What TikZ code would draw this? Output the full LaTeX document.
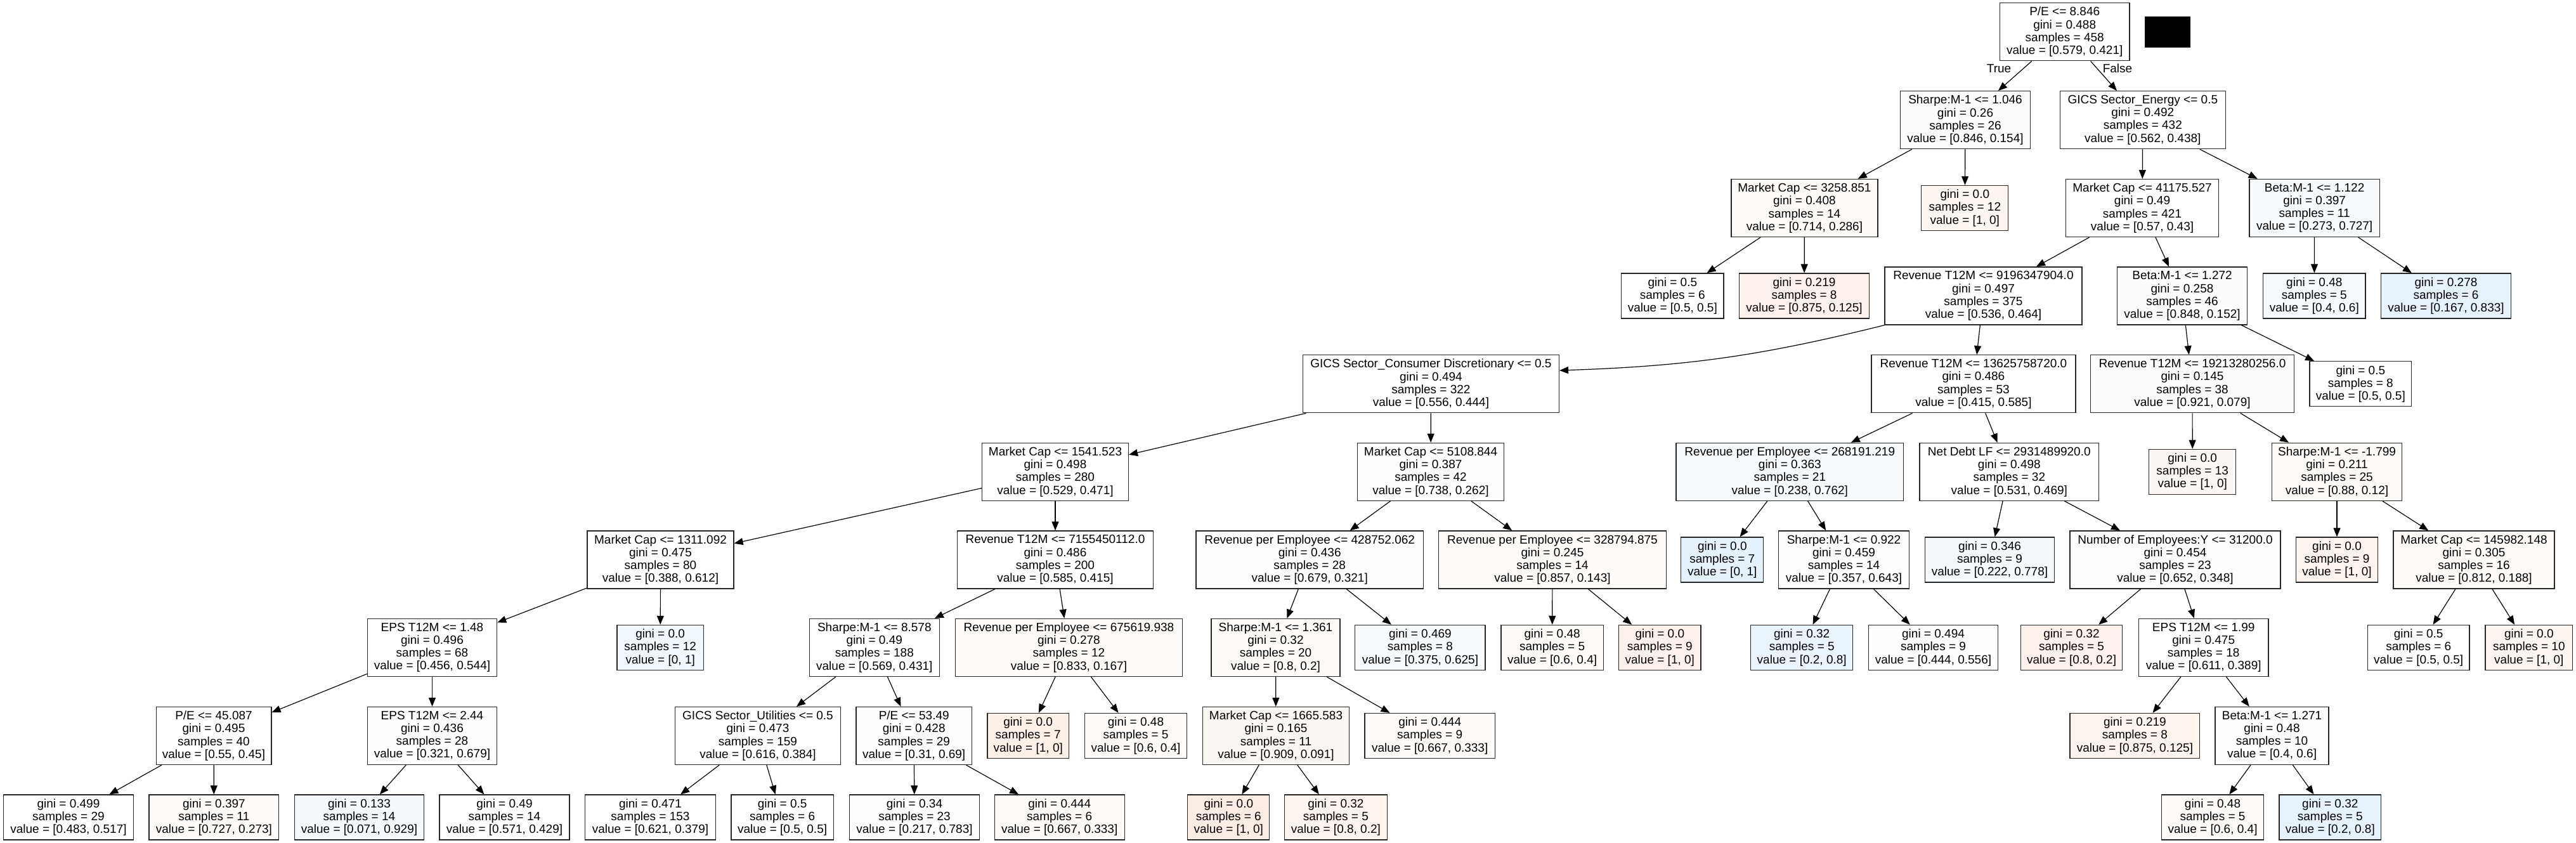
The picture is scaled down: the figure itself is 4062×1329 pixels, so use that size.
\documentclass[tikz,border=0pt]{standalone}
\usepackage{fontspec}
\setmainfont{Liberation Sans}
\usetikzlibrary{arrows.meta}
\definecolor{skO}{HTML}{E58139}
\definecolor{skB}{HTML}{399DE5}
\tikzset{
  tbox/.style={draw=black!85, line width=1.3pt, rectangle, inner sep=0pt, align=center,
    minimum width=#1pt, minimum height=91pt, font=\fontsize{19}{20.2}\selectfont},
  tleaf/.style={tbox=#1, minimum height=71pt},
  fo/.style={fill=skO!#1!white},
  fb/.style={fill=skB!#1!white},
  conn/.style={line width=1.2pt, black, -{Triangle[length=14pt,width=11pt]}},
  lbl/.style={font=\fontsize{19}{20.2}\selectfont, inner sep=0pt}
}
\begin{document}
\begin{tikzpicture}[x=1pt, y=-1pt]
\fill[white] (0,0) rectangle (4062,1329);
\useasboundingbox (0,0) rectangle (4062,1329);

% level 0
\node[tbox=204.6, fill=white] (n0) at (3255.7,50.3) {P/E <= 8.846\\gini = 0.488\\samples = 458\\value = [0.579, 0.421]};
\node[fill=black, minimum width=72pt, minimum height=49pt, inner sep=0pt] (blk) at (3418.3,50.5) {};
% level 1
\node[tbox=205.3, fo=2] (n1) at (3099,189.2) {Sharpe:M-1 <= 1.046\\gini = 0.26\\samples = 26\\value = [0.846, 0.154]};
\node[tbox=261, fill=white] (n2) at (3378.8,189.2) {GICS Sector\_Energy <= 0.5\\gini = 0.492\\samples = 432\\value = [0.562, 0.438]};
% level 2
\node[tbox=231, fo=3] (n3) at (2845.4,328) {Market Cap <= 3258.851\\gini = 0.408\\samples = 14\\value = [0.714, 0.286]};
\node[tleaf=137, fo=7] (n4) at (3098.3,328) {gini = 0.0\\samples = 12\\value = [1, 0]};
\node[tbox=241.6, fill=white] (n5) at (3378,328) {Market Cap <= 41175.527\\gini = 0.49\\samples = 421\\value = [0.57, 0.43]};
\node[tbox=205.2, fb=4] (n6) at (3649.6,328) {Beta:M-1 <= 1.122\\gini = 0.397\\samples = 11\\value = [0.273, 0.727]};
% level 3
\node[tleaf=161.4, fill=white] (n7) at (2637.3,466.5) {gini = 0.5\\samples = 6\\value = [0.5, 0.5]};
\node[tleaf=205, fo=10] (n8) at (2845,466.5) {gini = 0.219\\samples = 8\\value = [0.875, 0.125]};
\node[tbox=311, fill=white] (n9) at (3127.5,466.5) {Revenue T12M <= 9196347904.0\\gini = 0.497\\samples = 375\\value = [0.536, 0.464]};
\node[tbox=205, fo=2] (n10) at (3441,466.5) {Beta:M-1 <= 1.272\\gini = 0.258\\samples = 46\\value = [0.848, 0.152]};
\node[tleaf=161.4, fb=5] (n11) at (3649.3,466.5) {gini = 0.48\\samples = 5\\value = [0.4, 0.6]};
\node[tleaf=205, fb=12] (n12) at (3857,466.5) {gini = 0.278\\samples = 6\\value = [0.167, 0.833]};
% level 4
\node[tbox=404, fill=white] (n13) at (2256.4,605.3) {GICS Sector\_Consumer Discretionary <= 0.5\\gini = 0.494\\samples = 322\\value = [0.556, 0.444]};
\node[tbox=322, fill=white] (n14) at (3111.9,605.3) {Revenue T12M <= 13625758720.0\\gini = 0.486\\samples = 53\\value = [0.415, 0.585]};
\node[tbox=321, fo=2] (n15) at (3457,605.3) {Revenue T12M <= 19213280256.0\\gini = 0.145\\samples = 38\\value = [0.921, 0.079]};
\node[tleaf=160.5, fill=white] (n16) at (3722.3,605.3) {gini = 0.5\\samples = 8\\value = [0.5, 0.5]};
% level 5
\node[tbox=230.8, fill=white] (n17) at (1664,743.8) {Market Cap <= 1541.523\\gini = 0.498\\samples = 280\\value = [0.529, 0.471]};
\node[tbox=230.8, fo=1.5] (n18) at (2256,743.8) {Market Cap <= 5108.844\\gini = 0.387\\samples = 42\\value = [0.738, 0.262]};
\node[tbox=358.4, fb=4] (n19) at (2822.3,743.8) {Revenue per Employee <= 268191.219\\gini = 0.363\\samples = 21\\value = [0.238, 0.762]};
\node[tbox=282.4, fill=white] (n20) at (3168.3,743.8) {Net Debt LF <= 2931489920.0\\gini = 0.498\\samples = 32\\value = [0.531, 0.469]};
\node[tleaf=137, fo=6] (n21) at (3457.2,743.8) {gini = 0.0\\samples = 13\\value = [1, 0]};
\node[tbox=205.3, fo=3] (n22) at (3685,743.8) {Sharpe:M-1 <= -1.799\\gini = 0.211\\samples = 25\\value = [0.88, 0.12]};
% level 6
\node[tbox=231, fill=white] (n23) at (1041.5,882.5) {Market Cap <= 1311.092\\gini = 0.475\\samples = 80\\value = [0.388, 0.612]};
\node[tbox=309.4, fill=white] (n24) at (1664,882.5) {Revenue T12M <= 7155450112.0\\gini = 0.486\\samples = 200\\value = [0.585, 0.415]};
\node[tbox=358.5, fo=1.5] (n25) at (2065.2,882.5) {Revenue per Employee <= 428752.062\\gini = 0.436\\samples = 28\\value = [0.679, 0.321]};
\node[tbox=358.5, fo=3] (n26) at (2448,882.5) {Revenue per Employee <= 328794.875\\gini = 0.245\\samples = 14\\value = [0.857, 0.143]};
\node[tleaf=130, fb=13] (n27) at (2715.8,882.5) {gini = 0.0\\samples = 7\\value = [0, 1]};
\node[tbox=206, fb=2] (n28) at (2907.5,882.5) {Sharpe:M-1 <= 0.922\\gini = 0.459\\samples = 14\\value = [0.357, 0.643]};
\node[tleaf=204.6, fb=6] (n29) at (3137.5,882.5) {gini = 0.346\\samples = 9\\value = [0.222, 0.778]};
\node[tbox=332, fo=1.5] (n30) at (3430,882.5) {Number of Employees:Y <= 31200.0\\gini = 0.454\\samples = 23\\value = [0.652, 0.348]};
\node[tleaf=129.3, fo=9] (n31) at (3685,882.5) {gini = 0.0\\samples = 9\\value = [1, 0]};
\node[tbox=254, fo=3] (n32) at (3901,882.5) {Market Cap <= 145982.148\\gini = 0.305\\samples = 16\\value = [0.812, 0.188]};
% level 7
\node[tbox=204.2, fill=white] (n33) at (681.5,1020.9) {EPS T12M <= 1.48\\gini = 0.496\\samples = 68\\value = [0.456, 0.544]};
\node[tleaf=136.4, fb=7] (n34) at (1041.2,1020.9) {gini = 0.0\\samples = 12\\value = [0, 1]};
\node[tbox=204.8, fill=white] (n35) at (1378.8,1020.9) {Sharpe:M-1 <= 8.578\\gini = 0.49\\samples = 188\\value = [0.569, 0.431]};
\node[tbox=357.8, fo=3] (n36) at (1685.4,1020.9) {Revenue per Employee <= 675619.938\\gini = 0.278\\samples = 12\\value = [0.833, 0.167]};
\node[tbox=203, fo=3] (n37) at (2011.5,1020.9) {Sharpe:M-1 <= 1.361\\gini = 0.32\\samples = 20\\value = [0.8, 0.2]};
\node[tleaf=205.4, fb=4] (n38) at (2239.4,1020.9) {gini = 0.469\\samples = 8\\value = [0.375, 0.625]};
\node[tleaf=161.3, fo=3] (n39) at (2447.6,1020.9) {gini = 0.48\\samples = 5\\value = [0.6, 0.4]};
\node[tleaf=129.4, fo=10] (n40) at (2617.3,1020.9) {gini = 0.0\\samples = 9\\value = [1, 0]};
\node[tleaf=161.2, fb=11] (n41) at (2841.2,1020.9) {gini = 0.32\\samples = 5\\value = [0.2, 0.8]};
\node[tleaf=203.7, fb=1] (n42) at (3048.5,1020.9) {gini = 0.494\\samples = 9\\value = [0.444, 0.556]};
\node[tleaf=160.5, fo=10] (n43) at (3266.5,1020.9) {gini = 0.32\\samples = 5\\value = [0.8, 0.2]};
\node[tbox=204.5, fill=white] (n44) at (3474.7,1020.9) {EPS T12M <= 1.99\\gini = 0.475\\samples = 18\\value = [0.611, 0.389]};
\node[tleaf=160.5, fill=white] (n45) at (3813.7,1020.9) {gini = 0.5\\samples = 6\\value = [0.5, 0.5]};
\node[tleaf=137.5, fo=8] (n46) at (3987.8,1020.9) {gini = 0.0\\samples = 10\\value = [1, 0]};
% level 8
\node[tbox=181.7, fill=white] (n47) at (337,1160) {P/E <= 45.087\\gini = 0.495\\samples = 40\\value = [0.55, 0.45]};
\node[tbox=204.2, fb=1.5] (n48) at (681.5,1160) {EPS T12M <= 2.44\\gini = 0.436\\samples = 28\\value = [0.321, 0.679]};
\node[tbox=261, fill=white] (n49) at (1195,1160) {GICS Sector\_Utilities <= 0.5\\gini = 0.473\\samples = 159\\value = [0.616, 0.384]};
\node[tbox=182.3, fb=2] (n50) at (1441.2,1160) {P/E <= 53.49\\gini = 0.428\\samples = 29\\value = [0.31, 0.69]};
\node[tleaf=128.4, fo=12] (n51) at (1621.2,1160) {gini = 0.0\\samples = 7\\value = [1, 0]};
\node[tleaf=160.7, fo=3] (n52) at (1791,1160) {gini = 0.48\\samples = 5\\value = [0.6, 0.4]};
\node[tbox=231.3, fo=6] (n53) at (2012,1160) {Market Cap <= 1665.583\\gini = 0.165\\samples = 11\\value = [0.909, 0.091]};
\node[tleaf=205.4, fo=3] (n54) at (2254.7,1160) {gini = 0.444\\samples = 9\\value = [0.667, 0.333]};
\node[tleaf=204.6, fo=9] (n55) at (3366.4,1160) {gini = 0.219\\samples = 8\\value = [0.875, 0.125]};
\node[tbox=178.8, fb=2] (n56) at (3582.5,1160) {Beta:M-1 <= 1.271\\gini = 0.48\\samples = 10\\value = [0.4, 0.6]};
% level 9
\node[tleaf=205, fill=white] (n57) at (108,1288.5) {gini = 0.499\\samples = 29\\value = [0.483, 0.517]};
\node[tleaf=204.8, fo=3] (n58) at (337.4,1288.5) {gini = 0.397\\samples = 11\\value = [0.727, 0.273]};
\node[tleaf=204, fb=6] (n59) at (566.5,1288.5) {gini = 0.133\\samples = 14\\value = [0.071, 0.929]};
\node[tleaf=204.8, fill=white] (n60) at (795.5,1288.5) {gini = 0.49\\samples = 14\\value = [0.571, 0.429]};
\node[tleaf=205.9, fill=white] (n61) at (1025.5,1288.5) {gini = 0.471\\samples = 153\\value = [0.621, 0.379]};
\node[tleaf=161.4, fill=white] (n62) at (1233.6,1288.5) {gini = 0.5\\samples = 6\\value = [0.5, 0.5]};
\node[tleaf=204.9, fb=2] (n63) at (1442,1288.5) {gini = 0.34\\samples = 23\\value = [0.217, 0.783]};
\node[tleaf=204.9, fo=4] (n64) at (1670.7,1288.5) {gini = 0.444\\samples = 6\\value = [0.667, 0.333]};
\node[tleaf=129, fo=14] (n65) at (1937.3,1288.5) {gini = 0.0\\samples = 6\\value = [1, 0]};
\node[tleaf=161.5, fo=9] (n66) at (2106.4,1288.5) {gini = 0.32\\samples = 5\\value = [0.8, 0.2]};
\node[tleaf=161.2, fo=3] (n67) at (3489,1288.5) {gini = 0.48\\samples = 5\\value = [0.6, 0.4]};
\node[tleaf=160.5, fb=12] (n68) at (3674.3,1288.5) {gini = 0.32\\samples = 5\\value = [0.2, 0.8]};

% labels
\node[lbl] (ltrue) at (3152,108) {True};
\node[lbl] (lfalse) at (3339,108) {False};

% connectors
\draw[conn] (n0) -- (n1);
\draw[conn] (n0) -- (n2);
\draw[conn] (n1) -- (n3);
\draw[conn] (n1) -- (n4);
\draw[conn] (n2) -- (n5);
\draw[conn] (n2) -- (n6);
\draw[conn] (n3) -- (n7);
\draw[conn] (n3) -- (n8);
\draw[conn] (n5) -- (n9);
\draw[conn] (n5) -- (n10);
\draw[conn] (n6) -- (n11);
\draw[conn] (n6) -- (n12);
\draw[conn] (n9.south west) to[bend left=6] (n13.6);
\draw[conn] (n9) -- (n14);
\draw[conn] (n10) -- (n15);
\draw[conn] (n10) -- (n16);
\draw[conn] (n13) -- (n17);
\draw[conn] (n13) -- (n18);
\draw[conn] (n14) -- (n19);
\draw[conn] (n14) -- (n20);
\draw[conn] (n15) -- (n21);
\draw[conn] (n15) -- (n22);
\draw[conn] (n17) -- (n23);
\draw[conn] (n17) -- (n24);
\draw[conn] (n18) -- (n25);
\draw[conn] (n18) -- (n26);
\draw[conn] (n19) -- (n27);
\draw[conn] (n19) -- (n28);
\draw[conn] (n20) -- (n29);
\draw[conn] (n20) -- (n30);
\draw[conn] (n22) -- (n31);
\draw[conn] (n22) -- (n32);
\draw[conn] (n23) -- (n33);
\draw[conn] (n23) -- (n34);
\draw[conn] (n24) -- (n35);
\draw[conn] (n24) -- (n36);
\draw[conn] (n25) -- (n37);
\draw[conn] (n25) -- (n38);
\draw[conn] (n26) -- (n39);
\draw[conn] (n26) -- (n40);
\draw[conn] (n28) -- (n41);
\draw[conn] (n28) -- (n42);
\draw[conn] (n30) -- (n43);
\draw[conn] (n30) -- (n44);
\draw[conn] (n32) -- (n45);
\draw[conn] (n32) -- (n46);
\draw[conn] (n33) -- (n47);
\draw[conn] (n33) -- (n48);
\draw[conn] (n35) -- (n49);
\draw[conn] (n35) -- (n50);
\draw[conn] (n36) -- (n51);
\draw[conn] (n36) -- (n52);
\draw[conn] (n37) -- (n53);
\draw[conn] (n37) -- (n54);
\draw[conn] (n44) -- (n55);
\draw[conn] (n44) -- (n56);
\draw[conn] (n47) -- (n57);
\draw[conn] (n47) -- (n58);
\draw[conn] (n48) -- (n59);
\draw[conn] (n48) -- (n60);
\draw[conn] (n49) -- (n61);
\draw[conn] (n49) -- (n62);
\draw[conn] (n50) -- (n63);
\draw[conn] (n50) -- (n64);
\draw[conn] (n53) -- (n65);
\draw[conn] (n53) -- (n66);
\draw[conn] (n56) -- (n67);
\draw[conn] (n56) -- (n68);
\end{tikzpicture}
\end{document}
